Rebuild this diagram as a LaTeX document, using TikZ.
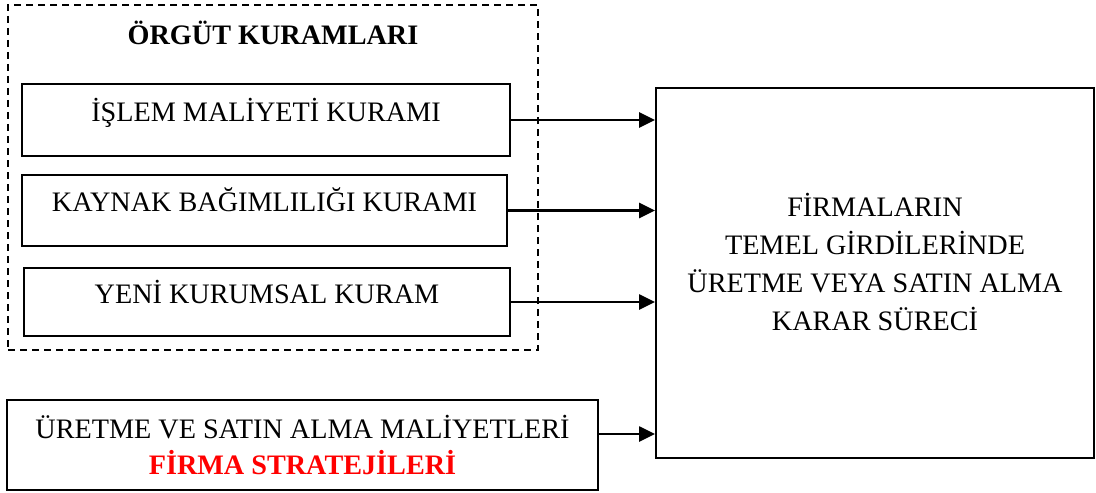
\documentclass[tikz,border=0pt]{standalone}
\usepackage{fontspec}
\setmainfont{Liberation Serif}
\usetikzlibrary{arrows.meta}

\begin{document}
\begin{tikzpicture}[x=0.5pt,y=-0.5pt,
    yazi/.style={font=\fontsize{14.1}{19}\selectfont, align=center},
    kutu/.style={draw, line width=1pt, yazi},
    kuram/.style={kutu, text height=9pt, text depth=7.6pt},
    cerceve/.style={draw, line width=0.8pt, dash pattern=on 3.5pt off 2.5pt},
    ok/.style={-{Triangle[length=8pt,width=7.5pt]}, line width=1.3pt}]
	\useasboundingbox (0,0) rectangle (1096,492);
	% orgut kuramlari
	\node[cerceve, minimum width=265pt, minimum height=172.5pt] (orgut) at (273,177.5) {};
	\node[yazi, font=\fontsize{14.1}{19}\selectfont\bfseries] (baslik) at (273,33) {ÖRGÜT KURAMLARI};
	\node[kuram, minimum width=244pt, minimum height=35.5pt] (islem) at (266,120) {İŞLEM MALİYETİ KURAMI};
	\node[kuram, minimum width=242.5pt, minimum height=35.5pt] (kaynak) at (264.5,210.5) {KAYNAK BAĞIMLILIĞI KURAMI};
	\node[kuram, minimum width=243pt, minimum height=34pt] (kurumsal) at (267,302) {YENİ KURUMSAL KURAM};
	% maliyetler
	\node[kutu, minimum width=295.5pt, minimum height=45pt] (maliyet) at (302.5,445) {ÜRETME VE SATIN ALMA MALİYETLERİ\\[-1pt] {\color{red}\bfseries FİRMA STRATEJİLERİ}};
	% karar sureci
	\node[kutu, minimum width=219pt, minimum height=185pt] (karar) at (875,273) {};
	\node[yazi] (kararyazi) at (875,261.5) {FİRMALARIN\\ TEMEL GİRDİLERİNDE\\ ÜRETME VEYA SATIN ALMA\\ KARAR SÜRECİ};
	\draw[ok] (islem.east) -- (islem.east -| karar.west);
	\draw[ok] (kaynak.east) -- (kaynak.east -| karar.west);
	\draw[ok] (kurumsal.east) -- (kurumsal.east -| karar.west);
	\draw[ok] ([yshift=5.5pt]maliyet.east) -- ([yshift=5.5pt]maliyet.east -| karar.west);
\end{tikzpicture}
\end{document}
